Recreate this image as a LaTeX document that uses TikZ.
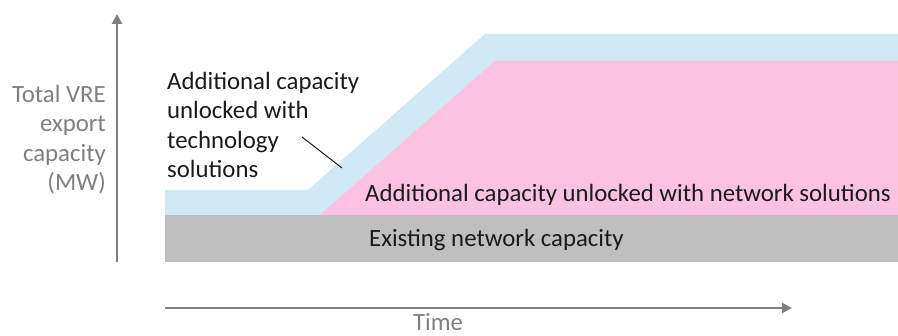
\documentclass[tikz,border=0pt]{standalone}
\usepackage{fontspec}
\setmainfont{Carlito}
\usetikzlibrary{arrows.meta}
\definecolor{vreBlue}{HTML}{D1E8F5}
\definecolor{vrePink}{HTML}{FDC1E1}
\definecolor{vreGray}{HTML}{BFBFBF}
\definecolor{vreAxis}{HTML}{7F7F7F}
\definecolor{vreText}{HTML}{1A1A1A}
\tikzset{
  vre axis/.style={draw=vreAxis, line width=2.6pt, -{Triangle[length=10pt, width=10pt]}},
  vre leader/.style={draw=vreText, line width=1pt},
  vre label/.style={font=\fontsize{24.8}{29.5}\selectfont, text=vreText, inner sep=0pt},
  vre axis label/.style={font=\fontsize{24.8}{29.5}\selectfont, text=vreAxis, inner sep=0pt},
}

\begin{document}
\begin{tikzpicture}[x=1pt, y=1pt]
  \useasboundingbox (0,0) rectangle (898,336);
  % Bands: existing capacity, then technology on top of network solutions
  \fill[vreGray] (165,74) rectangle (898,121);
  \fill[vreBlue] (165,121) -- (165,146) -- (308,146) -- (485,302) -- (898,302) -- (898,121) -- cycle;
  \fill[vrePink] (320,121) -- (495,275) -- (898,275) -- (898,121) -- cycle;
  % Axes
  \coordinate (yfoot) at (117,74);
  \coordinate (ytip) at (117,322);
  \coordinate (xfoot) at (165,28);
  \coordinate (xtip) at (792,28);
  \draw[vre axis] (yfoot) -- (ytip);
  \draw[vre axis] (xfoot) -- (xtip);
  % Labels (base = last line of a multi-line node)
  \node[vre axis label, align=right, anchor=base east] (ylabel) at (106,145) {Total VRE\\export\\capacity\\(MW)};
  \node[vre axis label, anchor=base] (xlabel) at (438,5) {Time};
  \node[vre label, align=left, anchor=base west] (techlabel) at (167,158) {Additional capacity\\unlocked with\\technology\\solutions};
  \node[vre label, anchor=base west] (netlabel) at (365,134) {Additional capacity unlocked with network solutions};
  \node[vre label, anchor=base west] (existlabel) at (369,89) {Existing network capacity};
  % Leader from the technology label to its band
  \coordinate (leadstart) at (302,199);
  \coordinate (leadend) at (342,168);
  \draw[vre leader] (leadstart) -- (leadend);
\end{tikzpicture}
\end{document}
